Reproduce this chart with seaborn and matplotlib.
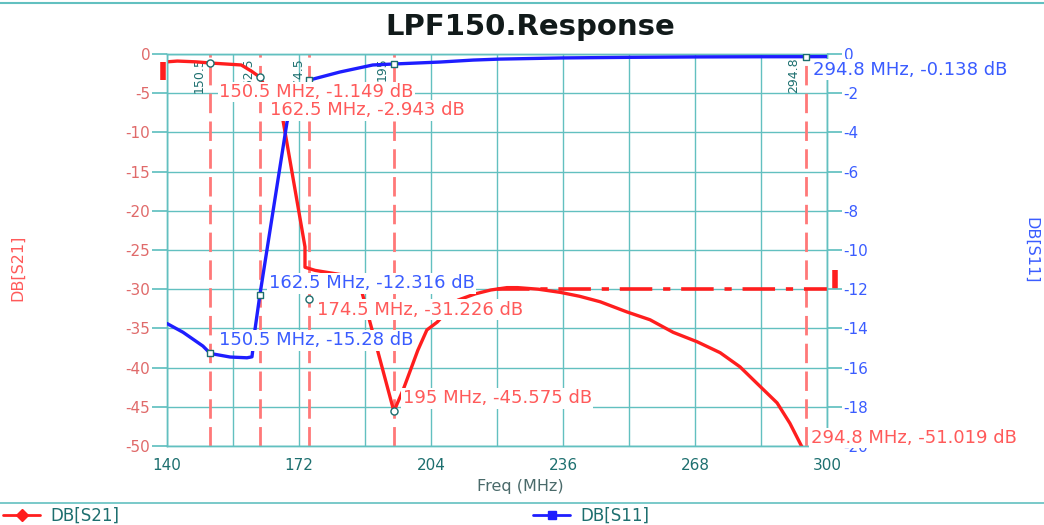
import matplotlib
matplotlib.use("Agg")
import matplotlib.pyplot as plt
import pandas as pd
import seaborn as sns
from matplotlib.lines import Line2D

# ---- data -------------------------------------------------------------
# DB[S21] trace, left axis (dB)
s21_freq = [140.0, 142.5, 147.0, 150.5, 158.0, 160.5, 162.5, 168.1, 173.45, 173.45,
            175.9, 186.3, 195.0, 197.2, 200.8, 203.0, 205.5, 210.5, 214.7, 218.5,
            222.4, 225.0, 230.0, 235.3, 240.0, 245.0, 251.5, 257.1, 262.7, 268.5,
            274.1, 278.9, 283.0, 287.9, 291.0, 294.8, 300.0]
s21_db = [-1.0, -0.9, -1.0, -1.149, -1.4, -2.2, -2.943, -8.4, -24.6, -27.2,
          -27.6, -28.5, -45.575, -42.9, -37.8, -35.2, -34.2, -31.4, -30.6, -30.1,
          -29.8, -29.8, -30.0, -30.4, -30.9, -31.6, -32.9, -33.9, -35.5, -36.7,
          -38.1, -39.9, -42.0, -44.5, -47.1, -51.019, -53.0]

# DB[S11] trace, right axis (dB)
s11_freq = [140.0, 143.9, 148.7, 150.5, 155.3, 159.4, 160.6, 160.8, 161.3, 162.5,
            169.1, 170.5, 174.5, 181.9, 189.9, 195.0, 206.2, 214.2, 220.7, 236.0,
            252.0, 268.0, 284.0, 294.8, 300.0]
s11_db = [-13.75, -14.2, -14.9, -15.28, -15.46, -15.5, -15.45, -15.1, -14.1, -12.316,
          -3.47, -2.45, -1.33, -0.92, -0.56, -0.51, -0.41, -0.31, -0.26, -0.2,
          -0.17, -0.15, -0.14, -0.138, -0.135]

# Marker readouts
marker_freq = [150.5, 162.5, 174.5, 195.0, 294.8]
marker_names = ["150.5", "162.5", "174.5", "195", "294.8"]
s21_marker_db = [-1.149, -2.943, -31.226, -45.575, -51.019]
s11_marker_db = [-15.28, -12.316, -1.33, -0.51, -0.138]
s11_labelled = [True, True, False, False, True]

# Spec limit line (S21, dB)
limit_freq = [220.0, 300.0]
limit_db = [-30.0, -30.0]

# Trace end caps drawn just outside the plot frame
cap_left_freq = [139.0, 139.0]
cap_left_db = [-1.0, -3.3]
cap_right_freq = [301.9, 301.9]
cap_right_db = [-27.6, -30.0]

x_ticks = list(range(140, 301, 16))
x_labels = [str(t) if (t - 140) % 32 == 0 else "" for t in x_ticks]
left_ticks = list(range(-50, 1, 5))
right_ticks = list(range(-20, 1, 2))

# ---- style ------------------------------------------------------------
sns.set_theme(style="white")
plt.rcParams["font.family"] = ["DejaVu Sans"]
plt.rcParams["axes.unicode_minus"] = False

RED = "#ff1e1e"
BLUE = "#1e1eff"
TEAL = "#62c0c0"
RED_TXT = "#ff5a5a"
BLUE_TXT = "#3a5cff"
TICK_RED = "#e06a6a"
DARK_TEAL = "#1d6f6f"
MARK_RED = "#ff7878"

fig = plt.figure(figsize=(10.44, 5.25), dpi=100)
ax = fig.add_axes([167 / 1044, 1 - 446 / 525, 660 / 1044, 392 / 525])
ax2 = ax.twinx()

# frame and grid
for a in (ax, ax2):
    for s in a.spines.values():
        s.set_color(TEAL)
        s.set_linewidth(1.0)
ax.set_xlim(140, 300)
ax.set_ylim(-50, 0)
ax2.set_ylim(-20, 0)
ax.set_xticks(x_ticks)
ax.set_xticklabels(x_labels)
ax.set_yticks(left_ticks)
ax2.set_yticks(right_ticks)
ax.grid(True, color=TEAL, linewidth=1.0)
ax2.grid(False)
ax.tick_params(axis="x", direction="out", length=6, color=TEAL,
               labelcolor=DARK_TEAL, labelsize=11, pad=3)
ax.tick_params(axis="y", direction="out", length=11, color=TEAL,
               labelcolor=TICK_RED, labelsize=11, pad=1, left=True)
ax2.tick_params(axis="y", direction="out", length=11, color=TEAL,
                labelcolor=BLUE_TXT, labelsize=11, pad=1, right=True)

# marker cursor lines and their vertical tags
for f, name in zip(marker_freq, marker_names):
    ax.axvline(f, color=MARK_RED, lw=2.0, ls=(0, (7, 3)), zorder=1.5)
    ax.text(f - 1.2, -0.4, name, rotation=90, ha="right", va="top",
            fontsize=9, color=DARK_TEAL, zorder=1.6)

# traces
df21 = pd.DataFrame({"freq": s21_freq, "db": s21_db})
df11 = pd.DataFrame({"freq": s11_freq, "db": s11_db})
sns.lineplot(data=df21, x="freq", y="db", ax=ax, color=RED, lw=2.4,
             sort=False, estimator=None, zorder=3)
ax.plot(limit_freq, limit_db, color=RED, lw=2.6, ls=(0, (9, 3, 2, 3)), zorder=3)
ax.plot(cap_left_freq, cap_left_db, color=RED, lw=4, clip_on=False,
        solid_capstyle="butt", zorder=3)
ax.plot(cap_right_freq, cap_right_db, color=RED, lw=4, clip_on=False,
        solid_capstyle="butt", zorder=3)
sns.lineplot(data=df11, x="freq", y="db", ax=ax2, color=BLUE, lw=2.4,
             sort=False, estimator=None, zorder=3)
ax.set_xlabel("")
ax.set_ylabel("")
ax2.set_ylabel("")

# marker symbols
sns.scatterplot(x=marker_freq, y=s21_marker_db, ax=ax, marker="o", s=26,
                facecolor="white", edgecolor=DARK_TEAL, linewidth=1.0, zorder=4)
sns.scatterplot(x=marker_freq, y=s11_marker_db, ax=ax2, marker="s", s=24,
                facecolor="white", edgecolor=DARK_TEAL, linewidth=1.0, zorder=4)

# readout labels (offset from the marker in pixels)
s21_offsets = [(9, -29), (10, -33), (8, -11), (9, 13), (5, 16)]
s11_offsets = [(9, 13), (9, 12), (0, 0), (0, 0), (7, -13)]
box = dict(facecolor="white", edgecolor="none", pad=1.0)
for f, v, off in zip(marker_freq, s21_marker_db, s21_offsets):
    ax2.annotate(f"{f:g} MHz, {v:g} dB", xy=(f, v), xycoords=ax.transData,
                 xytext=off, textcoords="offset pixels", ha="left", va="center",
                 fontsize=13, color=RED_TXT, bbox=box, annotation_clip=False,
                 zorder=6)
for f, v, off, show in zip(marker_freq, s11_marker_db, s11_offsets, s11_labelled):
    if show:
        ax2.annotate(f"{f:g} MHz, {v:g} dB", xy=(f, v), xycoords=ax2.transData,
                     xytext=off, textcoords="offset pixels", ha="left",
                     va="center", fontsize=13, color=BLUE_TXT, bbox=box,
                     annotation_clip=False, zorder=7)

# titles and axis names
fig.text(530 / 1044, 1 - 27 / 525, "LPF150.Response", ha="center", va="center",
         fontsize=21, fontweight="bold", color="#111a1a")
fig.text(520 / 1044, 1 - 487 / 525, "Freq (MHz)", ha="center", va="center",
         fontsize=11.5, color="#4a6a6a")
fig.text(18 / 1044, 1 - 268 / 525, "DB[S21]", rotation=90, ha="center",
         va="center", fontsize=11.5, color=RED_TXT)
fig.text(1031 / 1044, 1 - 250 / 525, "DB[S11]", rotation=270, ha="center",
         va="center", fontsize=11.5, color=BLUE_TXT)

# frame rules and legend strip
fig.add_artist(Line2D([0, 1], [1 - 3 / 525, 1 - 3 / 525], color=TEAL, lw=1.5))
fig.add_artist(Line2D([0, 1], [1 - 503 / 525, 1 - 503 / 525], color=TEAL, lw=1.2))
h21 = Line2D([], [], color=RED, lw=2, marker="D", markersize=6)
h11 = Line2D([], [], color=BLUE, lw=2, marker="s", markersize=6)
leg1 = fig.legend([h21], ["DB[S21]"], loc="center left",
                  bbox_to_anchor=(0.0, 1 - 516 / 525), frameon=False,
                  fontsize=12, handlelength=2.2, handletextpad=0.6,
                  borderaxespad=0.0, borderpad=0.2)
for t in leg1.get_texts():
    t.set_color(DARK_TEAL)
leg2 = fig.legend([h11], ["DB[S11]"], loc="center left",
                  bbox_to_anchor=(530 / 1044, 1 - 516 / 525), frameon=False,
                  fontsize=12, handlelength=2.2, handletextpad=0.6,
                  borderaxespad=0.0, borderpad=0.2)
for t in leg2.get_texts():
    t.set_color(DARK_TEAL)

fig.savefig("out.png", dpi=100)
